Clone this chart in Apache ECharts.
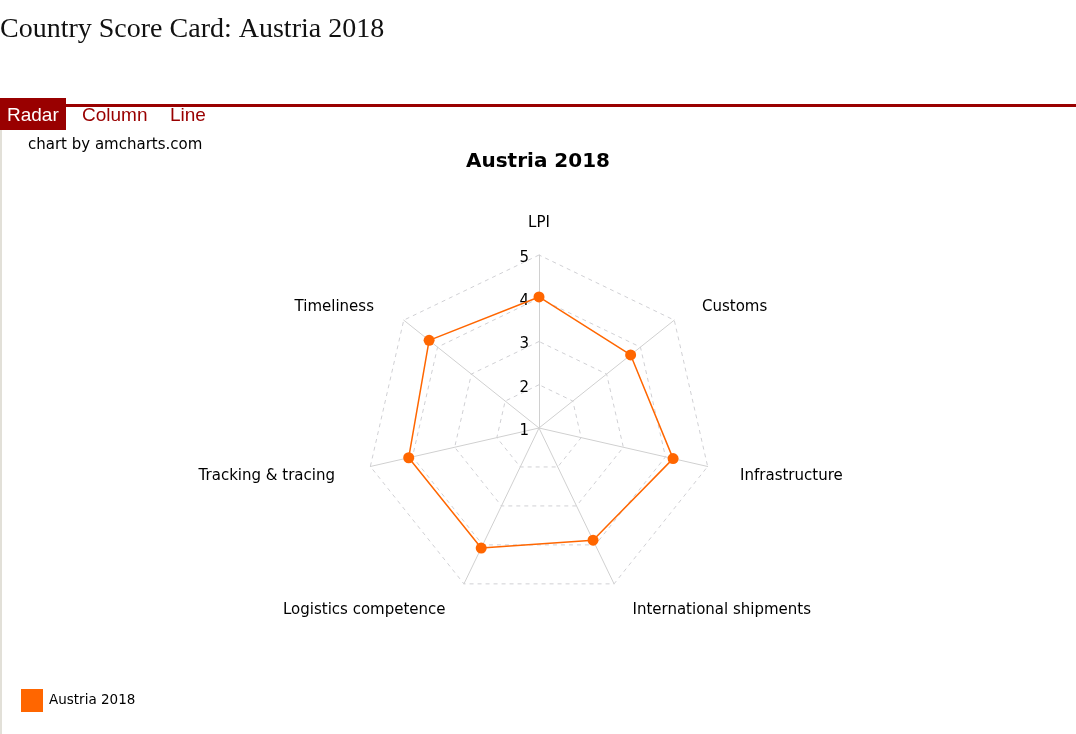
<!DOCTYPE html>
<html><head><meta charset="utf-8">
<script src="https://cdn.jsdelivr.net/npm/echarts@6/dist/echarts.min.js"></script>
<style>html,body{margin:0;padding:0;background:#fff;}#c{width:1076px;height:734px;}</style>
</head><body><div id="c"></div>
<script>
const pageTitle = 'Country Score Card: Austria 2018';
const tabs = ['Radar', 'Column', 'Line'];
const chartTitle = 'Austria 2018';
const seriesName = 'Austria 2018';
const credit = 'chart by amcharts.com';
const indicators = ['LPI', 'Customs', 'Infrastructure', 'International shipments', 'Logistics competence', 'Tracking & tracing', 'Timeliness'];
const values = [4.03, 3.71, 4.18, 3.88, 4.08, 4.09, 4.25];
const scaleMin = 1, scaleMax = 5, scaleStep = 1;

// ECharts radar runs counter-clockwise; reorder so the axes run clockwise like the reference
const order = [0].concat(indicators.slice(1).map((_, i) => indicators.length - 1 - i));

// per-label nudges (padding) so axis names sit where amCharts puts them
const namePads = [[0, 0, 0, 0], [3, 0, 0, 9], [8, 0, 0, 9], [10, 0, 0, 8], [10, 8, 0, 0], [8, 12, 0, 0], [3, 11, 0, 0]];
const nameFont = {fontFamily: 'DejaVu Sans', fontSize: 15, color: '#000'};
const rich = {};
namePads.forEach((p, i) => { rich['n' + i] = Object.assign({padding: p}, nameFont); });

const chart = echarts.init(document.getElementById('c'));
const C = [539, 428], R = 173;
chart.setOption({
  animation: false,
  title: {text: chartTitle, left: 'center', top: 147, textStyle: {fontFamily: 'DejaVu Sans', fontSize: 20, fontWeight: 'bold', color: '#000'}},
  graphic: [
    {type: 'text', left: 0, top: 16, style: {text: pageTitle, font: '28px "Liberation Serif"', fill: '#111'}},
    {type: 'rect', shape: {x: 0, y: 104, width: 1076, height: 3}, style: {fill: '#990000'}},
    {type: 'rect', shape: {x: 0, y: 98, width: 66, height: 32}, style: {fill: '#990000'}},
    {type: 'rect', shape: {x: 0, y: 130, width: 2, height: 604}, style: {fill: '#e2e0d8'}},
    {type: 'text', x: 7, y: 106, style: {text: tabs[0], font: '19px "Liberation Sans"', fill: '#fff'}},
    {type: 'text', x: 82, y: 106, style: {text: tabs[1], font: '19px "Liberation Sans"', fill: '#990000'}},
    {type: 'text', x: 170, y: 106, style: {text: tabs[2], font: '19px "Liberation Sans"', fill: '#990000'}},
    {type: 'text', x: 28, y: 138, style: {text: credit, font: '15px "DejaVu Sans"', fill: '#000'}}
  ],
  legend: {left: 21, top: 689, padding: 0, itemWidth: 22, itemHeight: 23, itemGap: 10, icon: 'rect', textStyle: {fontFamily: 'DejaVu Sans', fontSize: 13.5, color: '#000', padding: [0, 0, 0, 1]}, data: [seriesName]},
  radar: {
    center: C, radius: R, startAngle: 90, shape: 'polygon', splitNumber: 4,
    indicator: order.map(i => ({name: indicators[i], min: scaleMin, max: scaleMax})),
    axisName: Object.assign({
      formatter: name => '{n' + indicators.indexOf(name) + '|' + name + '}',
      rich: rich
    }, nameFont),
    nameGap: 24,
    axisLine: {lineStyle: {color: '#d0d0d0', width: 1}},
    splitLine: {lineStyle: {color: '#d0d0d4', type: [4, 4], width: 1}},
    splitArea: {show: false},
    axisTick: {show: false}, axisLabel: {show: false}
  },
  polar: {center: C, radius: R},
  angleAxis: {type: 'value', min: 0, max: 360, startAngle: 90, show: false},
  radiusAxis: {type: 'value', min: scaleMin, max: scaleMax, interval: scaleStep,
    axisLine: {show: false}, axisTick: {show: false}, splitLine: {show: false},
    axisLabel: {margin: 10, formatter: v => '{t|' + v + '}',
      rich: {t: {color: '#000', fontFamily: 'DejaVu Sans', fontSize: 15, padding: [6, 0, 0, 0]}}}},
  series: [{
    type: 'radar', name: seriesName,
    symbol: 'circle', symbolSize: 11,
    itemStyle: {color: '#ff6600'},
    lineStyle: {color: '#ff6600', width: 1.5},
    data: [{value: order.map(i => values[i]), name: seriesName}]
  }]
});
</script></body></html>
